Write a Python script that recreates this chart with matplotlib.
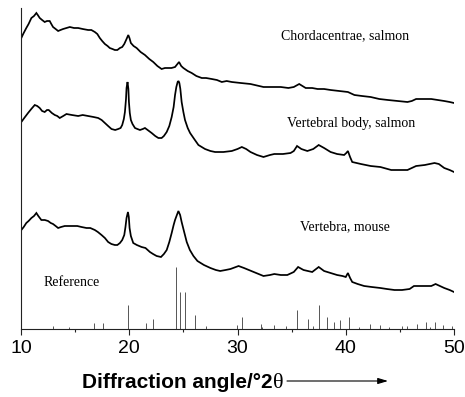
import matplotlib
matplotlib.use("Agg")
import matplotlib.pyplot as plt

# ---------------- data (intensity in arbitrary units) ----------------
chorda_angle = [10.03, 10.2, 10.49, 10.7, 10.96, 11.2, 11.42, 11.55, 11.73, 11.95, 12.19, 12.4,
                12.65, 12.8, 12.96, 13.2, 13.43, 13.65, 13.89, 14.2, 14.51, 14.9, 15.28, 15.7,
                16.2, 16.5, 16.82, 17.05, 17.28, 17.5, 17.75, 18.0, 18.2, 18.45, 18.67, 18.9,
                19.14, 19.35, 19.54, 19.75, 19.91, 20.02, 20.15, 20.4, 20.68, 21.05, 21.45,
                21.85, 22.22, 22.6, 22.99, 23.3, 23.6, 23.9, 24.23, 24.45, 24.6, 24.8, 25.0,
                25.4, 25.77, 26.2, 26.7, 27.1, 27.62, 28.1, 28.55, 29.0, 29.47, 30.3, 31.2,
                32.4, 33.2, 34.0, 34.7, 35.2, 35.7, 36.3, 36.9, 37.4, 38.0, 38.6, 39.4, 40.2,
                40.8, 41.5, 42.3, 43.1, 43.9, 44.8, 45.7, 46.1, 46.5, 47.2, 47.9, 48.5, 49.1,
                49.6, 50.0]
chorda_int = [291, 295, 301, 305, 311, 313, 316, 314, 311, 309, 307, 308,
              308, 305, 302, 300, 298, 299, 300, 301, 302, 301, 301, 300,
              299, 299, 297, 295, 291, 288, 285, 283, 281, 280, 279, 279,
              281, 282, 285, 290, 294, 291, 286, 283, 281, 277, 274,
              270, 267, 263, 260, 261, 261, 261, 262, 265, 267, 263, 261,
              258, 256, 253, 251, 251, 250, 249, 247, 248, 247, 246, 245,
              242, 242, 242, 241, 242, 245, 241, 241, 240, 240, 239, 238, 237,
              234, 233, 232, 230, 229, 228, 227, 228, 230, 230, 230, 229, 228,
              227, 226]

vbody_angle = [10.03, 10.3, 10.65, 10.95, 11.27, 11.5, 11.73, 11.95, 12.19, 12.4, 12.56, 12.85,
               13.12, 13.35, 13.58, 13.9, 14.2, 14.7, 15.28, 15.7, 16.2, 16.7, 17.13, 17.45,
               17.75, 18.05, 18.36, 18.7, 18.98, 19.2, 19.35, 19.5, 19.6, 19.7, 19.75, 19.84,
               19.92, 19.97, 20.05, 20.15, 20.3, 20.53, 20.75, 20.99, 21.25, 21.45, 21.7,
               22.07, 22.4, 22.69, 22.99, 23.2, 23.46, 23.7, 23.92, 24.1, 24.23, 24.35, 24.47,
               24.55, 24.63, 24.72, 24.84, 25.0, 25.15, 25.4, 25.62, 26.0, 26.39, 27.0,
               27.5, 27.93, 28.7, 29.47, 30.0, 30.4, 30.8, 31.2, 31.8, 32.4, 33.0, 33.4, 34.2,
               34.9, 35.2, 35.5, 35.9, 36.45, 37.0, 37.5, 38.0, 38.6, 39.2, 39.85, 40.05,
               40.2, 40.4, 40.6, 41.4, 42.3, 43.2, 44.2, 45.0, 45.7, 46.1, 46.5, 47.3, 48.2,
               48.6, 49.1, 49.6, 50.0]
vbody_int = [207, 211, 216, 220, 224, 223, 221, 218, 217, 219, 219, 216,
             214, 213, 211, 213, 215, 214, 213, 214, 213, 212, 211, 209,
             206, 203, 200, 199, 200, 201, 204, 210, 217, 230, 241, 247,
             240, 227, 216, 209, 205, 201, 200, 199, 200, 201, 199,
             196, 193, 191, 191, 193, 197, 203, 212, 222, 234, 242, 247,
             248, 246, 240, 227, 217, 209, 201, 196, 190, 184, 180,
             178, 177, 177, 178, 180, 182, 180, 177, 174, 172, 174, 175, 175,
             176, 178, 183, 180, 178, 180, 184, 181, 177, 175, 174, 176,
             178, 172, 167, 165, 163, 162, 159, 159, 159, 161, 163, 164, 166,
             165, 161, 159, 157]

mouse_angle = [10.03, 10.25, 10.49, 10.7, 10.96, 11.2, 11.42, 11.6, 11.88, 12.2, 12.5, 12.75,
               12.96, 13.2, 13.43, 13.7, 14.04, 14.4, 14.82, 15.2, 15.59, 16.05, 16.4, 16.82,
               17.1, 17.44, 17.75, 18.05, 18.35, 18.67, 18.9, 19.14, 19.35, 19.54, 19.65,
               19.75, 19.88, 19.96, 20.03, 20.15, 20.37, 20.7, 21.14, 21.5, 21.91, 22.2, 22.53,
               22.93, 23.2, 23.46, 23.7, 23.92, 24.1, 24.23, 24.4, 24.54, 24.7, 24.84, 25.05,
               25.31, 25.6, 25.93, 26.3, 26.9, 27.5, 28.0, 28.4, 28.9, 29.35, 30.1, 30.6,
               31.5, 32.4, 33.0, 33.4, 34.0, 34.6, 35.2, 35.6, 36.1, 36.5, 36.9, 37.5, 38.0,
               38.6, 39.2, 39.7, 40.0, 40.2, 40.4, 40.6, 41.1, 41.7, 42.4, 43.2, 43.8, 44.5,
               45.2, 45.9, 46.3, 47.1, 47.9, 48.3, 48.7, 49.1, 49.6, 50.0]
mouse_int = [99, 102, 106, 108, 111, 113, 116, 113, 109, 109, 108, 106,
             105, 103, 101, 102, 103, 103, 103, 103, 102, 101, 101, 99,
             97, 94, 91, 87, 85, 84, 84, 86, 89, 94, 102,
             111, 117, 112, 101, 93, 86, 84, 82, 81, 77, 75, 73,
             72, 75, 79, 87, 96, 104, 109, 114, 118, 114, 107, 98,
             87, 79, 73, 68, 64, 61, 59, 58, 59, 60, 63, 61,
             57, 53, 54, 55, 54, 54, 57, 62, 59, 58, 57, 62, 58,
             56, 54, 53, 52, 56, 51, 47, 45, 43, 42, 41, 40, 39,
             39, 40, 43, 43, 43, 45, 43, 41, 39, 37]

ref_angle = [12.93, 14.41, 16.70, 17.53, 19.85, 21.54, 22.19, 24.29, 24.66, 25.19, 26.05,
             27.10, 29.97, 30.43, 32.13, 32.28, 33.36, 34.47, 35.52, 36.54, 36.94, 37.53,
             38.31, 38.89, 39.47, 40.31, 41.23, 42.25, 43.18, 43.98, 45.19, 45.65, 46.54,
             47.44, 47.75, 48.24, 48.95, 49.81]
ref_int = [3.3, 1.7, 5.7, 5.7, 24.3, 6.3, 10.3, 62, 36.7, 36.7, 14.3,
           2.7, 4, 12, 5, 2, 4, 3.5, 18.7, 9.7, 3.5, 24.3,
           12, 7, 9.3, 12, 2, 5, 4, 2, 3.3, 2.7, 5.3,
           6.7, 2, 6.7, 4, 3.3]

labels = ["Chordacentrae, salmon", "Vertebral body, salmon", "Vertebra, mouse", "Reference"]
xticks = [10, 20, 30, 40, 50]
minor_ticks = [15, 25, 35, 45]

# ---------------- figure ----------------
W, H = 465, 397
fig = plt.figure(figsize=(W / 100, H / 100), dpi=100)
ax = fig.add_axes([21 / W, 68 / H, 433 / W, 321 / H])

for a, i in [(chorda_angle, chorda_int), (vbody_angle, vbody_int), (mouse_angle, mouse_int)]:
    ax.plot(a, i, color="black", lw=1.25, solid_joinstyle="miter")

ax.vlines(ref_angle, 0, ref_int, color="#555555", lw=0.7)

ax.set_xlim(10, 50)
ax.set_ylim(0, 321)
ax.set_xticks(xticks)
ax.set_xticks(minor_ticks, minor=True)
ax.set_yticks([])
for s in ["top", "right"]:
    ax.spines[s].set_visible(False)
for s in ["left", "bottom"]:
    ax.spines[s].set_linewidth(0.8)
    ax.spines[s].set_color("#222222")
ax.tick_params(axis="x", which="major", direction="out", length=4, width=0.8,
               labelsize=14, pad=4, colors="#222222", labelcolor="black")
ax.tick_params(axis="x", which="minor", direction="out", length=2.5, width=0.8, colors="#222222")
for lab in ax.get_xticklabels():
    lab.set_fontfamily("Liberation Sans")

serif = "Liberation Serif"
ax.text(39.9, 293, labels[0], ha="center", va="center", fontsize=10, family=serif)
ax.text(40.46, 206, labels[1], ha="center", va="center", fontsize=10, family=serif)
ax.text(39.9, 102, labels[2], ha="center", va="center", fontsize=10, family=serif)
ax.text(14.72, 47, labels[3], ha="center", va="center", fontsize=10, family=serif)

# x label with serif theta and arrow
t1 = fig.text(82 / W, 9 / H, "Diffraction angle/°2", ha="left", va="baseline",
              fontsize=15, fontweight="bold", family="Liberation Sans")
fig.canvas.draw()
bb = t1.get_window_extent()
t2 = fig.text(bb.x1 / W, 9 / H, "θ", ha="left", va="baseline", fontsize=16, family=serif)
ax.annotate("", xy=(388 / W, 16 / H), xytext=(287 / W, 16 / H),
            xycoords="figure fraction", textcoords="figure fraction",
            arrowprops=dict(arrowstyle="-|>,head_length=0.6,head_width=0.18", color="black",
                            lw=0.8, shrinkA=0, shrinkB=0))

fig.savefig("out.png", dpi=100)
